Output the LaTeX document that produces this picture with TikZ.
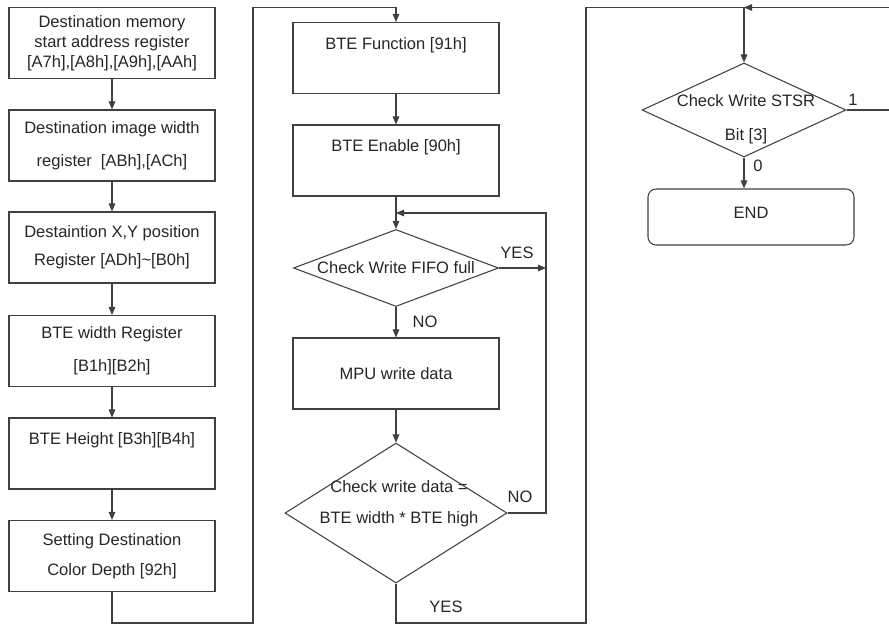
\documentclass[tikz,border=0pt]{standalone}
\usepackage{fontspec}
\setmainfont{Liberation Sans}
\usetikzlibrary{arrows.meta,shapes.geometric}
\definecolor{lineclr}{gray}{0.25}
\definecolor{textclr}{gray}{0.15}
\tikzset{
  flowline/.style  = {draw=lineclr, line width=0.6pt},
  flowarr/.style   = {flowline, -{Triangle[length=4.6pt,width=3.8pt]}},
  stepbox/.style   = {draw=lineclr, line width=0.6pt, minimum width=4.12cm,
                      minimum height=1.42cm, inner sep=0pt, align=center,
                      text=textclr, font=\fontsize{9.4}{17}\selectfont},
  endbox/.style    = {stepbox, rounded corners=0.16cm, minimum height=1.12cm},
  decide/.style    = {diamond, draw=lineclr, line width=0.6pt, inner sep=0pt},
  decidetxt/.style = {align=center, text=textclr, inner sep=0pt,
                      font=\fontsize{9.4}{17}\selectfont},
  branch/.style    = {text=textclr, inner sep=0pt, font=\fontsize{9.4}{11}\selectfont}
}

\begin{document}
\begin{tikzpicture}
  \useasboundingbox (0,0) rectangle (17.78,-12.56);
  % --- rails the connectors run along ------------------------------------
  \coordinate (toprail) at (0,-0.15);
  \coordinate (lowrail) at (0,-12.46);
  \coordinate (railA)   at (5.06,0);
  \coordinate (railB)   at (10.92,-4.26);
  \coordinate (railC)   at (11.72,0);
  \coordinate (railD)   at (17.84,0);
  \coordinate (join)    at (14.88,-0.15);

  % --- left column: register set-up --------------------------------------
  \node[stepbox, font=\fontsize{9.4}{11.4}\selectfont] (dstaddr) at (2.24,-0.86)
        {Destination memory\\start address register\\{}[A7h],[A8h],[A9h],[AAh]};
  \node[stepbox, font=\fontsize{9.4}{18.8}\selectfont] (imgwidth) at (2.24,-2.91)
        {Destination image width\\register~ [ABh],[ACh]};
  \node[stepbox, font=\fontsize{9.4}{16}\selectfont] (xypos) at (2.24,-4.95)
        {Destaintion X,Y position\\Register [ADh]\textasciitilde[B0h]};
  \node[stepbox, font=\fontsize{9.4}{18.8}\selectfont] (btewidth) at (2.24,-7.02)
        {BTE width Register\\{}[B1h][B2h]};
  \node[stepbox] (bteheight) at (2.24,-9.07) {BTE Height [B3h][B4h]\\ ~};
  \node[stepbox] (colordepth) at (2.24,-11.12)
        {Setting Destination\\Color Depth [92h]};

  \draw[flowarr] (dstaddr) -- (imgwidth);
  \draw[flowarr] (imgwidth) -- (xypos);
  \draw[flowarr] (xypos) -- (btewidth);
  \draw[flowarr] (btewidth) -- (bteheight);
  \draw[flowarr] (bteheight) -- (colordepth);

  % --- middle column: start BTE and feed data ----------------------------
  \node[stepbox] (btefunc) at (7.92,-1.16) {BTE Function [91h]\\ ~};
  \node[stepbox] (bteen)   at (7.92,-3.21) {BTE Enable [90h]\\ ~};
  \node[decide, minimum width=4.1cm, minimum height=1.54cm] (fifo) at (7.92,-5.36) {};
  \node[decidetxt] (fifotxt) at (fifo) {Check Write FIFO full};
  \node[stepbox] (mpuwr)   at (7.92,-7.47) {MPU write data};
  \node[decide, minimum width=4.44cm, minimum height=2.8cm] (cntchk) at (7.92,-10.26) {};
  \node[decidetxt, font=\fontsize{9.4}{17.6}\selectfont] (cntchktxt) at (7.98,-10.07)
        {Check write data =\\BTE width * BTE high};

  \draw[flowarr] (colordepth.south) |- (railA |- lowrail) |- (btefunc.north |- toprail)
                 -- (btefunc.north);
  \draw[flowarr] (btefunc) -- (bteen);
  \draw[flowarr] (bteen) -- (fifo);
  \draw[flowarr] (fifo.east) -- (fifo.east -| railB);
  \draw[flowarr] (fifo) -- (mpuwr);
  \draw[flowarr] (mpuwr) -- (cntchk);
  \draw[flowarr] (cntchk.east) -| (railB) -- (fifo.north |- railB);

  \node[branch] (fifoyes) at (10.34,-5.06) {YES};
  \node[branch] (fifono)  at (8.5,-6.44)   {NO};
  \node[branch] (cntno)   at (10.4,-9.94)  {NO};
  \node[branch] (cntyes)  at (8.92,-12.14) {YES};

  % --- right column: wait for the engine, then finish --------------------
  \node[decide, minimum width=4.08cm, minimum height=1.88cm] (stsr) at (14.88,-2.2) {};
  \node[decidetxt, font=\fontsize{9.4}{19.3}\selectfont] (stsrtxt) at (14.92,-2.38)
        {Check Write STSR\\Bit [3]};
  \node[endbox] (finish) at (15.02,-4.34) {END\\[-12pt] ~};

  \draw[flowline] (cntchk.south) |- (railC |- lowrail) |- (join);
  \draw[flowarr] (join) -- (stsr.north);
  \draw[flowarr] (stsr.east) -- (stsr.east -| railD) |- (join);
  \draw[flowarr] (stsr.south) -- (stsr.south |- finish.north);

  \node[branch] (bitone)  at (17.06,-2.0)  {1};
  \node[branch] (bitzero) at (15.16,-3.32) {0};
\end{tikzpicture}
\end{document}
